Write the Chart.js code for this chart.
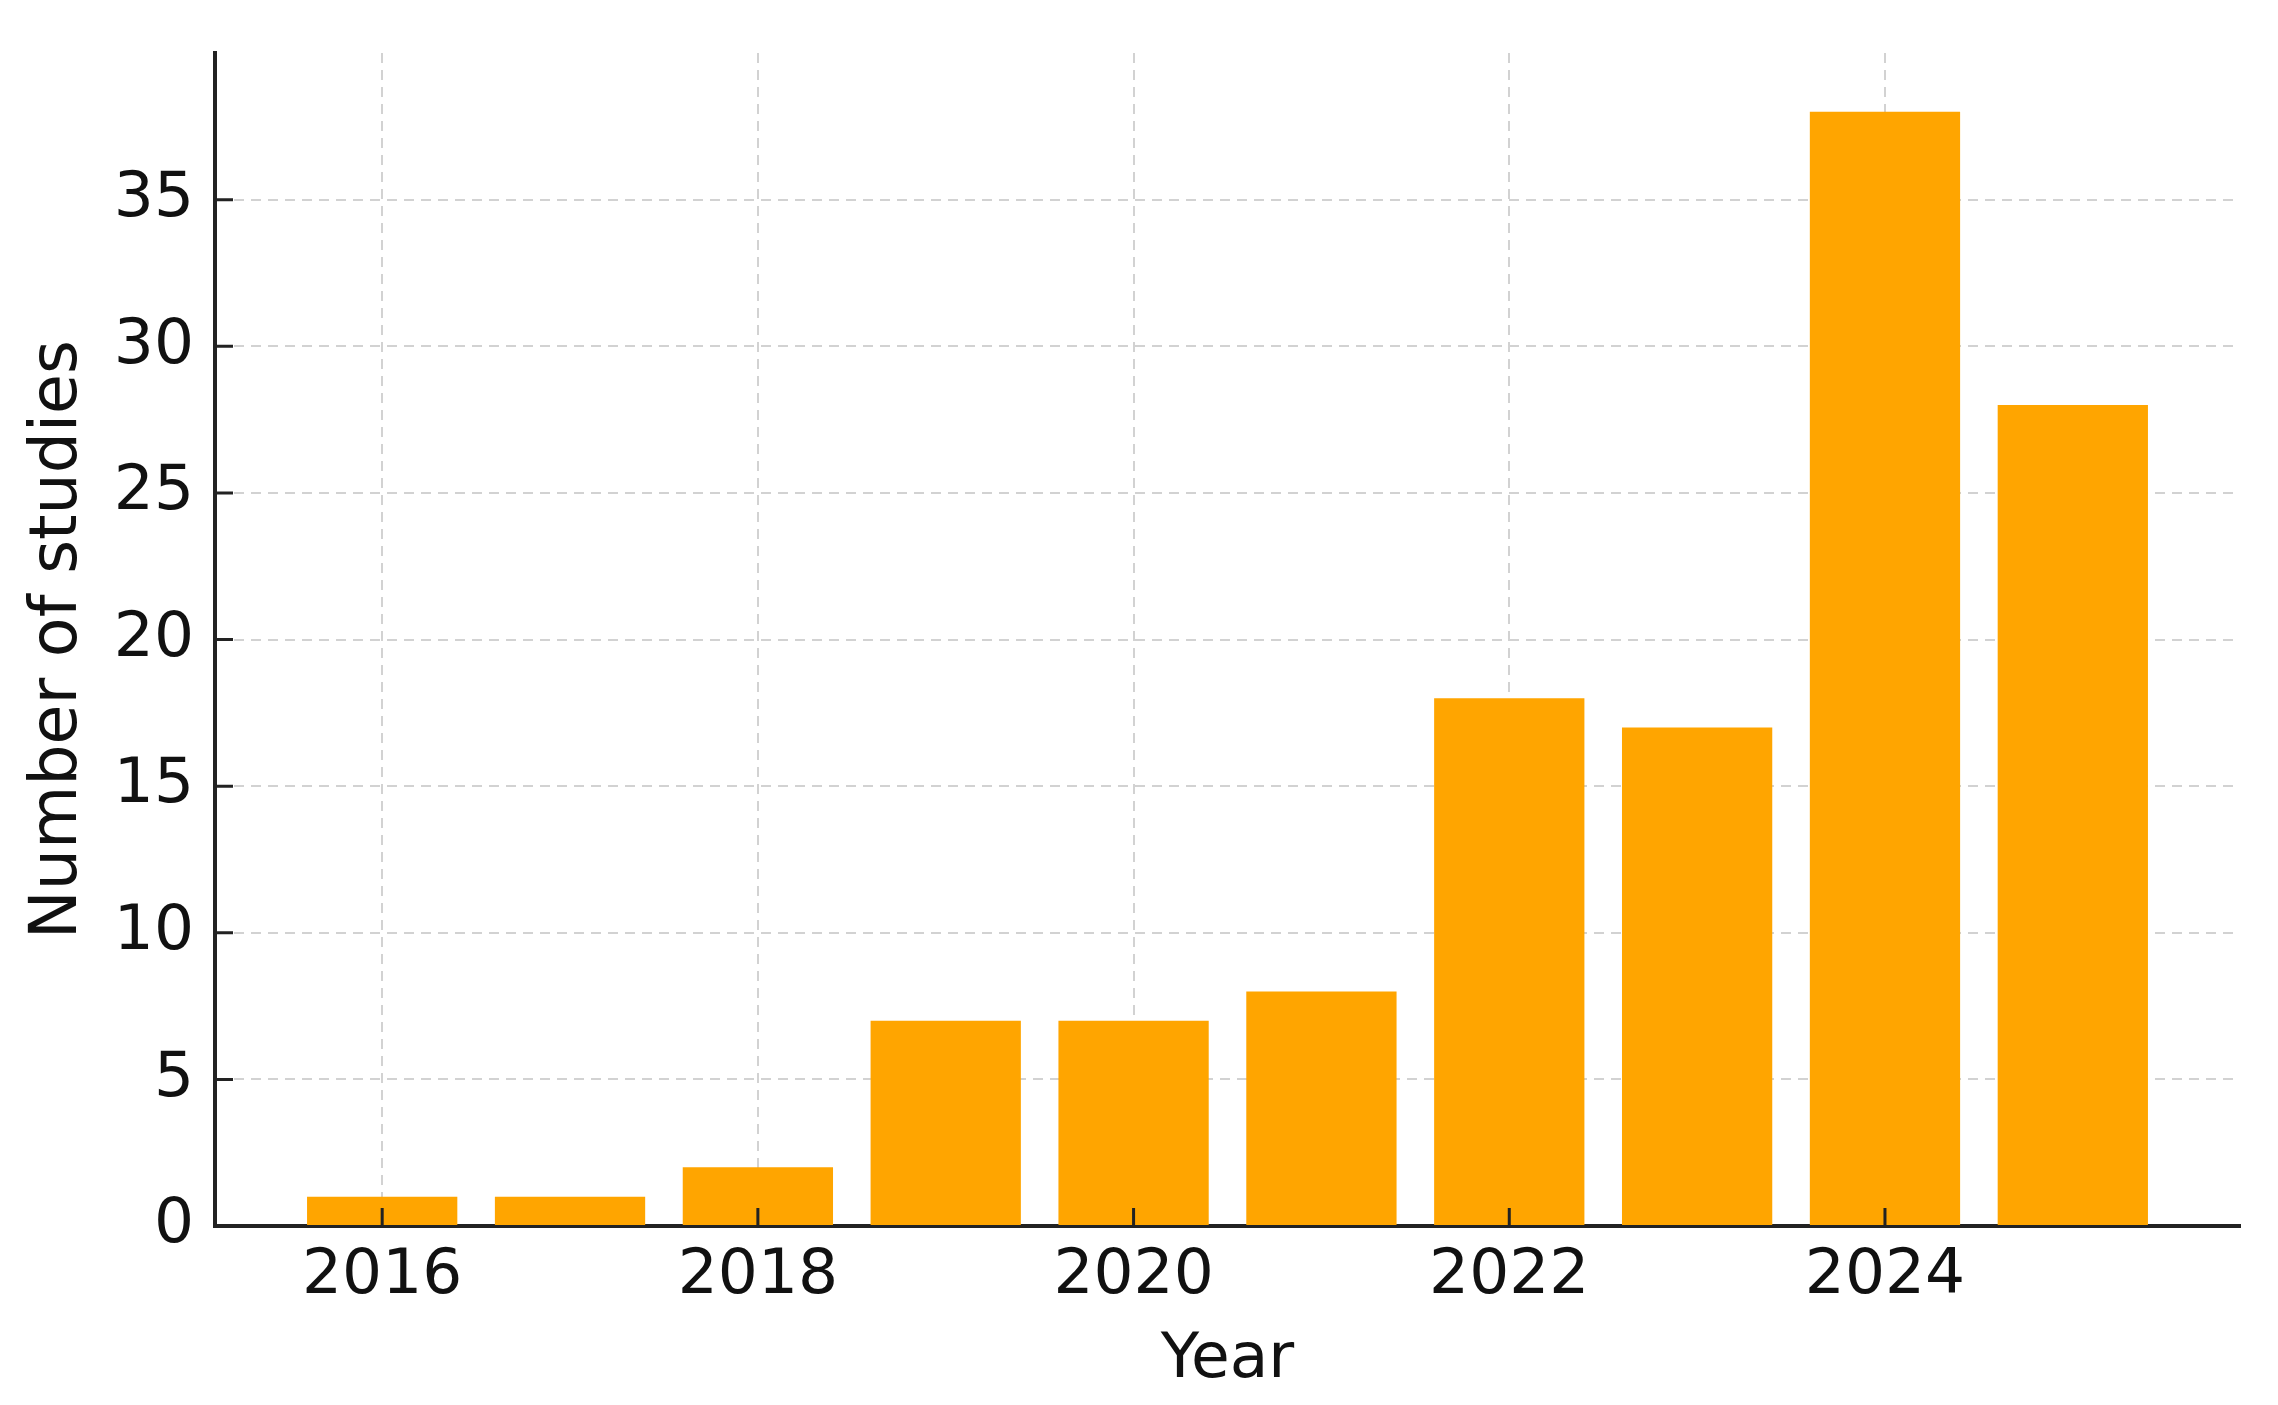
<!DOCTYPE html>
<html>
<head>
<meta charset="utf-8">
<script src="https://cdn.jsdelivr.net/npm/chart.js@4/dist/chart.umd.min.js"></script>
<style>
html,body{margin:0;padding:0;background:#fff;}
#wrap{width:2278px;height:1405px;position:relative;}
</style>
</head>
<body>
<div id="wrap"><canvas id="c" width="2278" height="1405"></canvas></div>
<script>
const years = [2016, 2017, 2018, 2019, 2020, 2021, 2022, 2023, 2024, 2025];
const studies = [1, 1, 2, 7, 7, 8, 18, 17, 38, 28];
const xTickYears = [2016, 2018, 2020, 2022, 2024];
const yTickValues = [0, 5, 10, 15, 20, 25, 30, 35];
const xLabel = 'Year';
const yLabel = 'Number of studies';

const FONT = "'DejaVu Sans', sans-serif";
const AXIS_COLOR = '#222222';

const innerTicks = {
  id: 'innerTicks',
  afterDatasetsDraw(chart) {
    const ctx = chart.ctx;
    const xs = chart.scales.x, ys = chart.scales.y;
    const len = 18;
    ctx.save();
    ctx.setLineDash([]);
    ctx.strokeStyle = AXIS_COLOR;
    ctx.lineWidth = 3;
    ctx.beginPath();
    xs.ticks.forEach(t => {
      const px = xs.getPixelForValue(t.value);
      ctx.moveTo(px, ys.bottom);
      ctx.lineTo(px, ys.bottom - len);
    });
    ys.ticks.forEach(t => {
      const py = ys.getPixelForValue(t.value);
      ctx.moveTo(xs.left, py);
      ctx.lineTo(xs.left + len, py);
    });
    ctx.stroke();
    ctx.restore();
  }
};

new Chart(document.getElementById('c'), {
  type: 'bar',
  data: {
    datasets: [{
      data: years.map((y, i) => ({ x: y, y: studies[i] })),
      backgroundColor: '#FFA500',
      borderWidth: 0,
      categoryPercentage: 1.0,
      barPercentage: 0.8
    }]
  },
  options: {
    responsive: false,
    animation: false,
    devicePixelRatio: 1,
    layout: { padding: { left: 0, right: 38, top: 53, bottom: 0 } },
    plugins: { legend: { display: false }, tooltip: { enabled: false } },
    scales: {
      x: {
        type: 'linear',
        offset: false,
        min: 2015.11,
        max: 2025.89,
        afterBuildTicks(scale) { scale.ticks = xTickYears.map(v => ({ value: v })); },
        afterFit(scale) { scale.height = 179; scale.paddingLeft = 0; scale.paddingRight = 0; },
        ticks: {
          font: { family: FONT, size: 63 },
          color: '#111',
          padding: 13,
          maxRotation: 0,
          autoSkip: false,
          callback: v => String(v)
        },
        grid: {
          offset: false,
          color: '#d2d2d2',
          lineWidth: 2,
          drawTicks: false
        },
        border: { display: true, color: AXIS_COLOR, width: 4, dash: [10, 7] },
        title: {
          display: true,
          text: xLabel,
          font: { family: FONT, size: 63 },
          color: '#111',
          padding: { top: 0, bottom: 7 }
        }
      },
      y: {
        type: 'linear',
        min: 0,
        max: 40,
        afterBuildTicks(scale) { scale.ticks = yTickValues.map(v => ({ value: v })); },
        afterFit(scale) { scale.width = 215; scale.paddingTop = 0; scale.paddingBottom = 0; },
        ticks: {
          font: { family: FONT, size: 63 },
          color: '#111',
          padding: 21,
          autoSkip: false
        },
        grid: {
          color: '#d2d2d2',
          lineWidth: 2,
          drawTicks: false
        },
        border: { display: true, color: AXIS_COLOR, width: 4, dash: [10, 7] },
        title: {
          display: true,
          text: yLabel,
          font: { family: FONT, size: 65 },
          color: '#111',
          padding: { top: 20, bottom: 0 }
        }
      }
    }
  },
  plugins: [innerTicks]
});
</script>
</body>
</html>
